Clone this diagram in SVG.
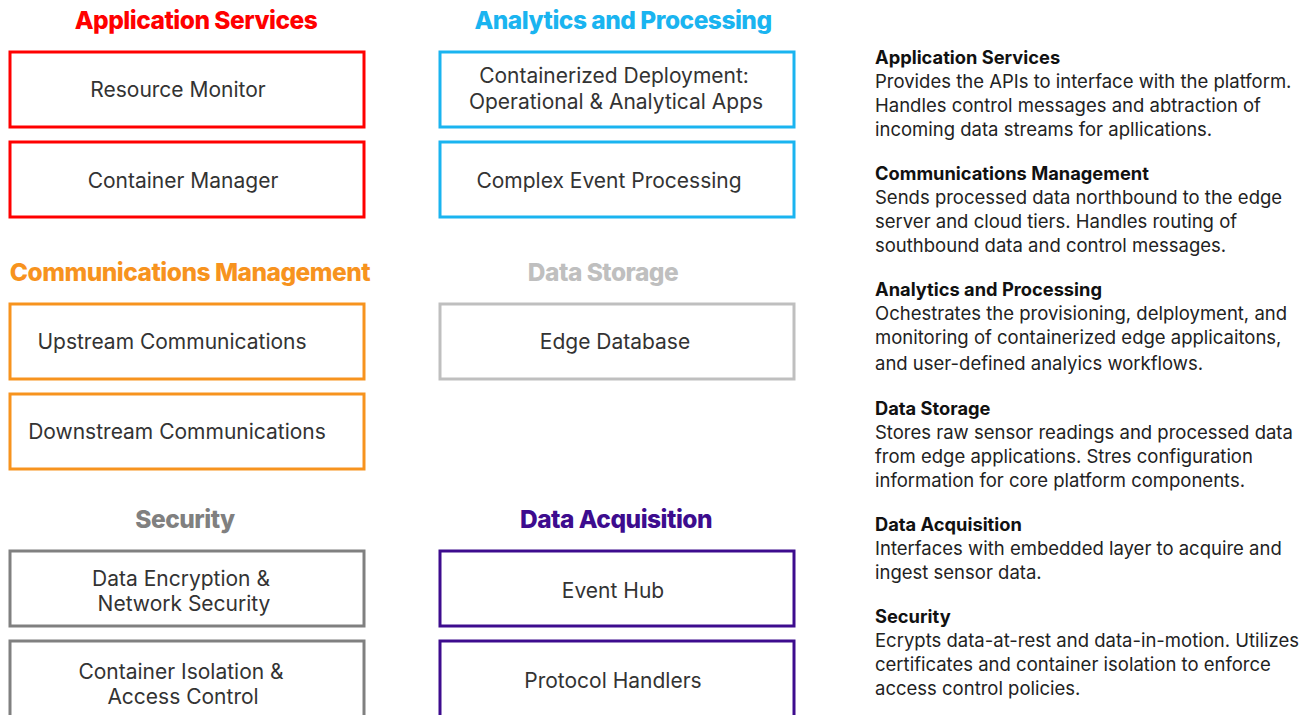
<svg xmlns="http://www.w3.org/2000/svg" width="1300" height="715" viewBox="0 0 1300 715">
<style>
.t{font-family:Inter,"Liberation Sans",sans-serif;font-weight:800;font-size:24.5px;text-anchor:middle;letter-spacing:-0.5px}
.b{fill:#fff;stroke-width:3}
.l{font-family:Inter,"Liberation Sans",sans-serif;font-size:21px;fill:#333;text-anchor:middle}
.h{font-family:Inter,"Liberation Sans",sans-serif;font-weight:700;font-size:18.3px;fill:#111}
.d{font-family:Inter,"Liberation Sans",sans-serif;font-size:18.5px;fill:#222}
</style>
<rect width="1300" height="715" fill="#fff"/>
<g id="titles">
<text class="t" x="196" y="29" fill="#FF0000">Application Services</text>
<text class="t" x="623" y="29" fill="#1AB4F0">Analytics and Processing</text>
<text class="t" x="190" y="281" fill="#F7931E">Communications Management</text>
<text class="t" x="603" y="281" fill="#BFBFBF">Data Storage</text>
<text class="t" x="185" y="528" fill="#808080">Security</text>
<text class="t" x="616" y="528" fill="#3D0C8E">Data Acquisition</text>
</g>
<g id="resource-monitor"><rect class="b" x="10" y="52" width="354" height="75" stroke="#FF0000"/><text class="l" x="178" y="97">Resource Monitor</text></g>
<g id="container-manager"><rect class="b" x="10" y="142" width="354" height="75" stroke="#FF0000"/><text class="l" x="183" y="188">Container Manager</text></g>
<g id="containerized-deployment"><rect class="b" x="440" y="52" width="354" height="75" stroke="#1AB4F0"/><text class="l" x="614" y="83">Containerized Deployment:</text><text class="l" x="616" y="109">Operational &amp; Analytical Apps</text></g>
<g id="complex-event-processing"><rect class="b" x="440" y="142" width="354" height="75" stroke="#1AB4F0"/><text class="l" x="609" y="188">Complex Event Processing</text></g>
<g id="upstream-communications"><rect class="b" x="10" y="304" width="354" height="75" stroke="#F7931E"/><text class="l" x="172" y="349">Upstream Communications</text></g>
<g id="downstream-communications"><rect class="b" x="10" y="394" width="354" height="75" stroke="#F7931E"/><text class="l" x="177" y="439">Downstream Communications</text></g>
<g id="edge-database"><rect class="b" x="440" y="304" width="354" height="75" stroke="#BFBFBF"/><text class="l" x="615" y="349">Edge Database</text></g>
<g id="data-encryption"><rect class="b" x="10" y="551" width="354" height="75" stroke="#808080"/><text class="l" x="181" y="586">Data Encryption &amp;</text><text class="l" x="184" y="611">Network Security</text></g>
<g id="container-isolation"><rect class="b" x="10" y="641" width="354" height="80" stroke="#808080"/><text class="l" x="181" y="679">Container Isolation &amp;</text><text class="l" x="183" y="704">Access Control</text></g>
<g id="event-hub"><rect class="b" x="440" y="551" width="354" height="75" stroke="#3D0C8E"/><text class="l" x="613" y="598">Event Hub</text></g>
<g id="protocol-handlers"><rect class="b" x="440" y="641" width="354" height="80" stroke="#3D0C8E"/><text class="l" x="613" y="688">Protocol Handlers</text></g>
<g id="connectors"></g>
<g id="legend">
<text class="h" x="875" y="64">Application Services</text>
<text class="d" x="875" y="88">Provides the APIs to interface with the platform.</text>
<text class="d" x="875" y="112">Handles control messages and abtraction of</text>
<text class="d" x="875" y="136">incoming data streams for apllications.</text>
<text class="h" x="875" y="180">Communications Management</text>
<text class="d" x="875" y="204">Sends processed data northbound to the edge</text>
<text class="d" x="875" y="228">server and cloud tiers. Handles routing of</text>
<text class="d" x="875" y="252">southbound data and control messages.</text>
<text class="h" x="875" y="296">Analytics and Processing</text>
<text class="d" x="875" y="320">Ochestrates the provisioning, delployment, and</text>
<text class="d" x="875" y="344">monitoring of containerized edge applicaitons,</text>
<text class="d" x="875" y="370">and user-defined analyics workflows.</text>
<text class="h" x="875" y="415">Data Storage</text>
<text class="d" x="875" y="439">Stores raw sensor readings and processed data</text>
<text class="d" x="875" y="463">from edge applications. Stres configuration</text>
<text class="d" x="875" y="487">information for core platform components.</text>
<text class="h" x="875" y="531">Data Acquisition</text>
<text class="d" x="875" y="555">Interfaces with embedded layer to acquire and</text>
<text class="d" x="875" y="579">ingest sensor data.</text>
<text class="h" x="875" y="623">Security</text>
<text class="d" x="875" y="647">Ecrypts data-at-rest and data-in-motion. Utilizes</text>
<text class="d" x="875" y="671">certificates and container isolation to enforce</text>
<text class="d" x="875" y="695">access control policies.</text>
</g>
</svg>
